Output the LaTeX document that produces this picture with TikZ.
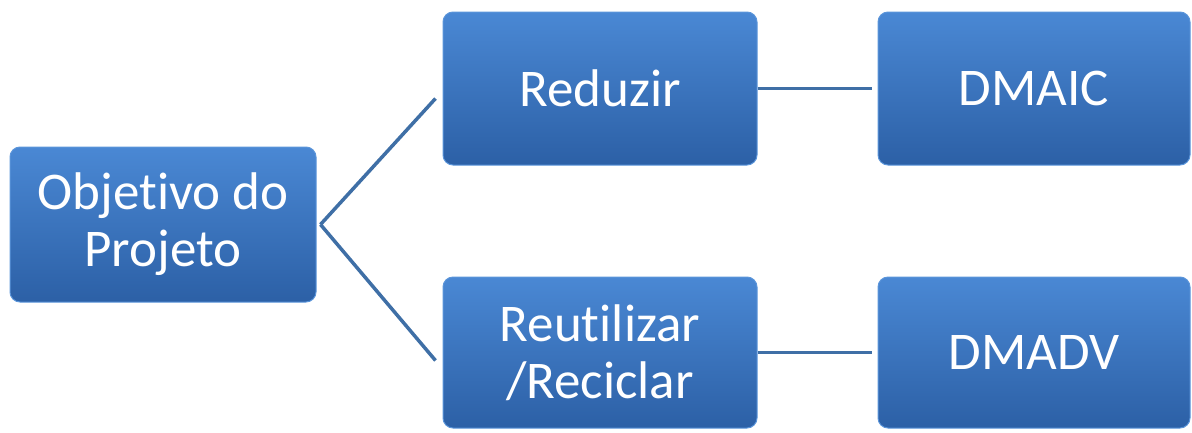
\documentclass[tikz,border=0pt]{standalone}
\usepackage{fontspec}
\setmainfont[Ligatures={NoCommon}]{Carlito}
\definecolor{boxtop}{HTML}{4A88D4}
\definecolor{boxbot}{HTML}{2C60A6}
\definecolor{boxedge}{HTML}{5B95DA}
\definecolor{linkc}{HTML}{3F6FA6}
\begin{document}
\begin{tikzpicture}[x=1pt,y=-1pt,
  box/.style={rectangle, rounded corners=10pt, top color=boxtop, bottom color=boxbot,
    draw=boxedge, line width=1pt, text=white, align=center,
    font=\fontsize{53}{57}\selectfont, inner sep=0pt},
  link/.style={draw=linkc, line width=3.5pt}]
\useasboundingbox (0,0) rectangle (1192,432);
\node[box, minimum width=306pt, minimum height=155pt] (obj) at (163,224.5) {Objetivo do\\Projeto};
\node[box, minimum width=314pt, minimum height=153pt] (red) at (600,88.5) {Reduzir};
\node[box, minimum width=312pt, minimum height=153pt] (dmaic) at (1034,88.5) {DMAIC};
\node[box, minimum width=314pt, minimum height=151pt] (reu) at (600,352.5) {Reutilizar\\/Reciclar};
\node[box, minimum width=312pt, minimum height=151pt] (dmadv) at (1034,352.5) {DMADV};
\draw[link] ([xshift=4pt]obj.east) -- ([xshift=-7pt,yshift=-10pt]red.west);
\draw[link] ([xshift=4pt]obj.east) -- ([xshift=-7pt,yshift=-8pt]reu.west);
\draw[link] (red.east) -- ([xshift=-6pt]dmaic.west);
\draw[link] (reu.east) -- ([xshift=-6pt]dmadv.west);
\end{tikzpicture}
\end{document}
